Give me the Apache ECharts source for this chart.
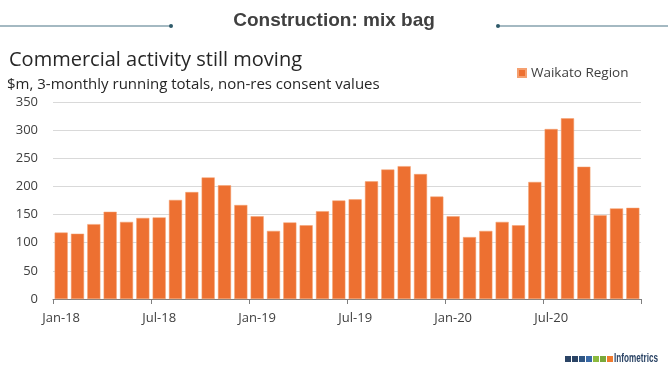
<!DOCTYPE html>
<html>
<head>
<meta charset="utf-8">
<script src="https://cdn.jsdelivr.net/npm/echarts@6/dist/echarts.min.js"></script>
<style>html,body{margin:0;padding:0;background:#fff}#c{width:668px;height:371px}</style>
</head>
<body>
<div id="c"></div>
<script>
var categories = ['Jan-18','Feb-18','Mar-18','Apr-18','May-18','Jun-18','Jul-18','Aug-18','Sep-18','Oct-18','Nov-18','Dec-18',
  'Jan-19','Feb-19','Mar-19','Apr-19','May-19','Jun-19','Jul-19','Aug-19','Sep-19','Oct-19','Nov-19','Dec-19',
  'Jan-20','Feb-20','Mar-20','Apr-20','May-20','Jun-20','Jul-20','Aug-20','Sep-20','Oct-20','Nov-20','Dec-20'];
var waikato = [118,116,133,155,137,144,145,176,190,216,202,167,
  147,121,136,131,156,175,177,209,230,236,222,182,
  147,110,121,137,131,208,302,321,235,149,161,162];
var yTicks = [0,50,100,150,200,250,300,350];
var logoColors = ['#2b4465','#2b4465','#2f5582','#3a6aa8','#8cba3e','#79a83a','#f07a2e'];

var chart = echarts.init(document.getElementById('c'), null, {renderer:'canvas'});
var graphics = [
  {type:'line', shape:{x1:0,y1:26,x2:170,y2:26}, style:{stroke:'#4a7585',lineWidth:1.2}},
  {type:'circle', shape:{cx:171,cy:26,r:2}, style:{fill:'#2f5a6a'}},
  {type:'line', shape:{x1:499,y1:26,x2:668,y2:26}, style:{stroke:'#4a7585',lineWidth:1.2}},
  {type:'circle', shape:{cx:498,cy:26,r:2}, style:{fill:'#2f5a6a'}},
  {type:'text', x:334, y:21, style:{text:'Construction: mix bag', font:'bold 19px "Liberation Sans", Arial, sans-serif', fill:'#404040', textAlign:'center', textVerticalAlign:'middle'}},
  {type:'text', x:9, y:60, style:{text:'Commercial activity still moving', font:'20px "Open Sans", sans-serif', fill:'#262626', textAlign:'left', textVerticalAlign:'middle'}},
  {type:'text', x:7, y:85, style:{text:'$m, 3-monthly running totals, non-res consent values', font:'15px "Open Sans", sans-serif', fill:'#262626', textAlign:'left', textVerticalAlign:'middle'}},
  {type:'text', x:614, y:359, scaleX:0.68, scaleY:1, style:{text:'Infometrics', font:'bold 12px "Liberation Sans", sans-serif', fill:'#2b4465', textAlign:'left', textVerticalAlign:'middle'}}
];
logoColors.forEach(function(c,i){
  graphics.push({type:'rect', shape:{x:565+i*7, y:356, width:6, height:6}, style:{fill:c}});
});

chart.setOption({
  animation:false,
  backgroundColor:'#fff',
  textStyle:{fontFamily:'"Open Sans", sans-serif'},
  graphic: graphics,
  legend:{
    data:['Waikato Region'], left:512, top:61, itemWidth:8, itemHeight:8, itemGap:5,
    icon:'rect',
    textStyle:{fontSize:13.5, color:'#404040', fontFamily:'"Open Sans", sans-serif'}
  },
  grid:{left:53, right:27, top:102, bottom:72},
  xAxis:{
    type:'category', data:categories, boundaryGap:true,
    axisLine:{lineStyle:{color:'#7f7f7f'}},
    axisTick:{show:true, interval:5, length:5, lineStyle:{color:'#7f7f7f'}},
    axisLabel:{interval:5, color:'#404040', fontSize:13, margin:13}
  },
  yAxis:{
    type:'value', min:0, max:350, interval:50,
    axisLine:{show:false}, axisTick:{show:false},
    axisLabel:{color:'#404040', fontSize:13, margin:15},
    splitLine:{lineStyle:{color:'#d9d9d9'}}
  },
  series:[{
    name:'Waikato Region', type:'bar', data:waikato, barCategoryGap:'20%',
    itemStyle:{color:'#ed7031', borderColor:'#f5a070', borderWidth:0.5}
  }]
});
</script>
</body>
</html>
